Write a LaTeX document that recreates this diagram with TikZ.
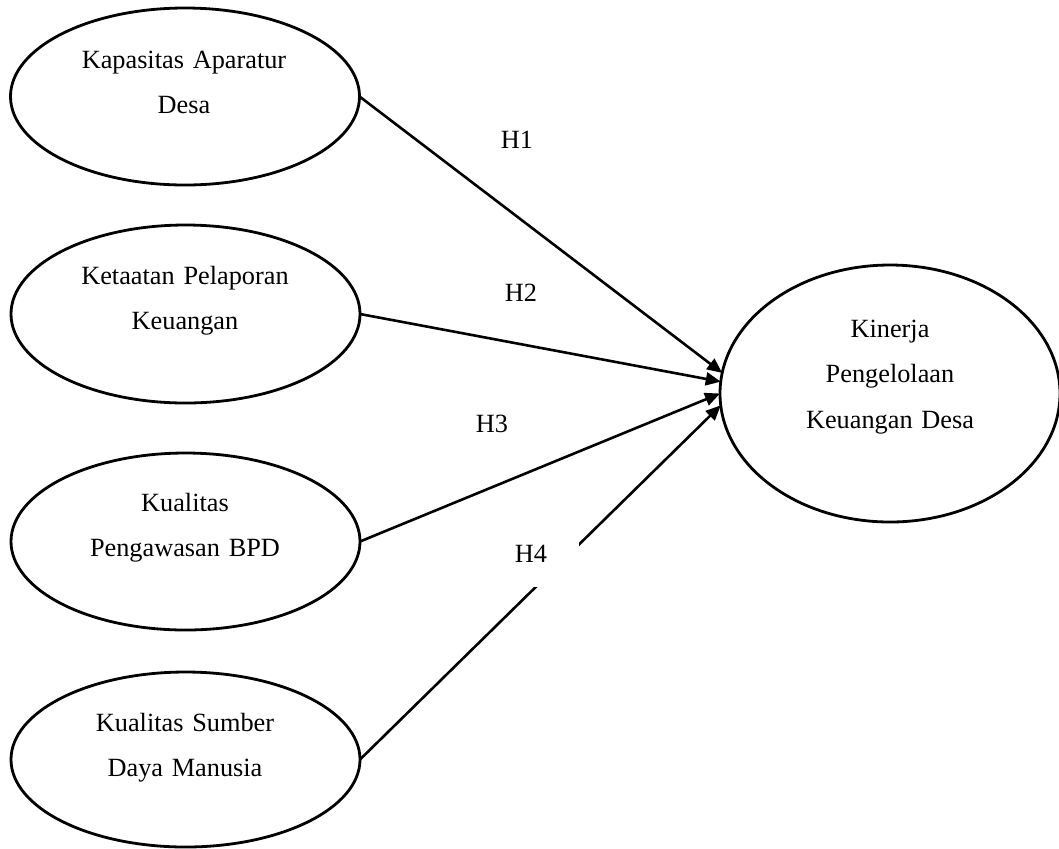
\documentclass[tikz,border=0pt]{standalone}
\usepackage{fontspec}
\setmainfont{Liberation Serif}
\usetikzlibrary{shapes.geometric,arrows.meta}
\begin{document}
\begin{tikzpicture}[x=0.5pt,y=-0.5pt,
  oval/.style={draw, ellipse, line width=1.4pt, inner sep=0pt, outer sep=0pt},
  label text/.style={font=\fontsize{13.15}{22.75}\selectfont, text width=160pt, align=center, anchor=base, inner sep=0pt},
  hyp/.style={font=\fontsize{13.15}{22.75}\selectfont, anchor=base, inner sep=0pt},
  link/.style={line width=1.3pt, -{Triangle[length=7.5pt,width=6.5pt]}}
]
\useasboundingbox (0,0) rectangle (1059,848);
% ellipses
\node[oval, minimum width=174.5pt, minimum height=88.5pt] (e1) at (185,96.5) {};
\node[oval, minimum width=174.5pt, minimum height=89pt] (e2) at (185.5,314) {};
\node[oval, minimum width=174.5pt, minimum height=88.5pt] (e3) at (185.5,541.5) {};
\node[oval, minimum width=174.5pt, minimum height=87.5pt] (e4) at (185.5,759.5) {};
\node[oval, minimum width=170pt, minimum height=128.5pt] (k) at (890,393.5) {};
% texts
\node[label text] (t1) at (184,68) {Kapasitas Aparatur\\Desa};
\node[label text] (t2) at (185,284) {Ketaatan Pelaporan\\Keuangan};
\node[label text] (t3) at (185,511) {Kualitas\\Pengawasan BPD};
\node[label text] (t4) at (185,731) {Kualitas Sumber\\Daya Manusia};
\node[label text] (tk) at (890,337) {Kinerja\\Pengelolaan\\Keuangan Desa};
% connectors
\draw[link] (e1.east) -- (k.173.1);
\draw[link] (e2.east) -- (k.176.8);
\draw[link] (e3.east) -- (k.180.8);
\draw[link] (e4.east) -- (k.184.9);
% hypothesis labels
\node[hyp] (h1) at (517,148) {H1};
\node[hyp] (h2) at (521,301) {H2};
\node[hyp] (h3) at (492,432) {H3};
\node[hyp, fill=white, minimum width=48pt, minimum height=33.5pt] (h4) at (531,562) {H4};
\end{tikzpicture}
\end{document}
